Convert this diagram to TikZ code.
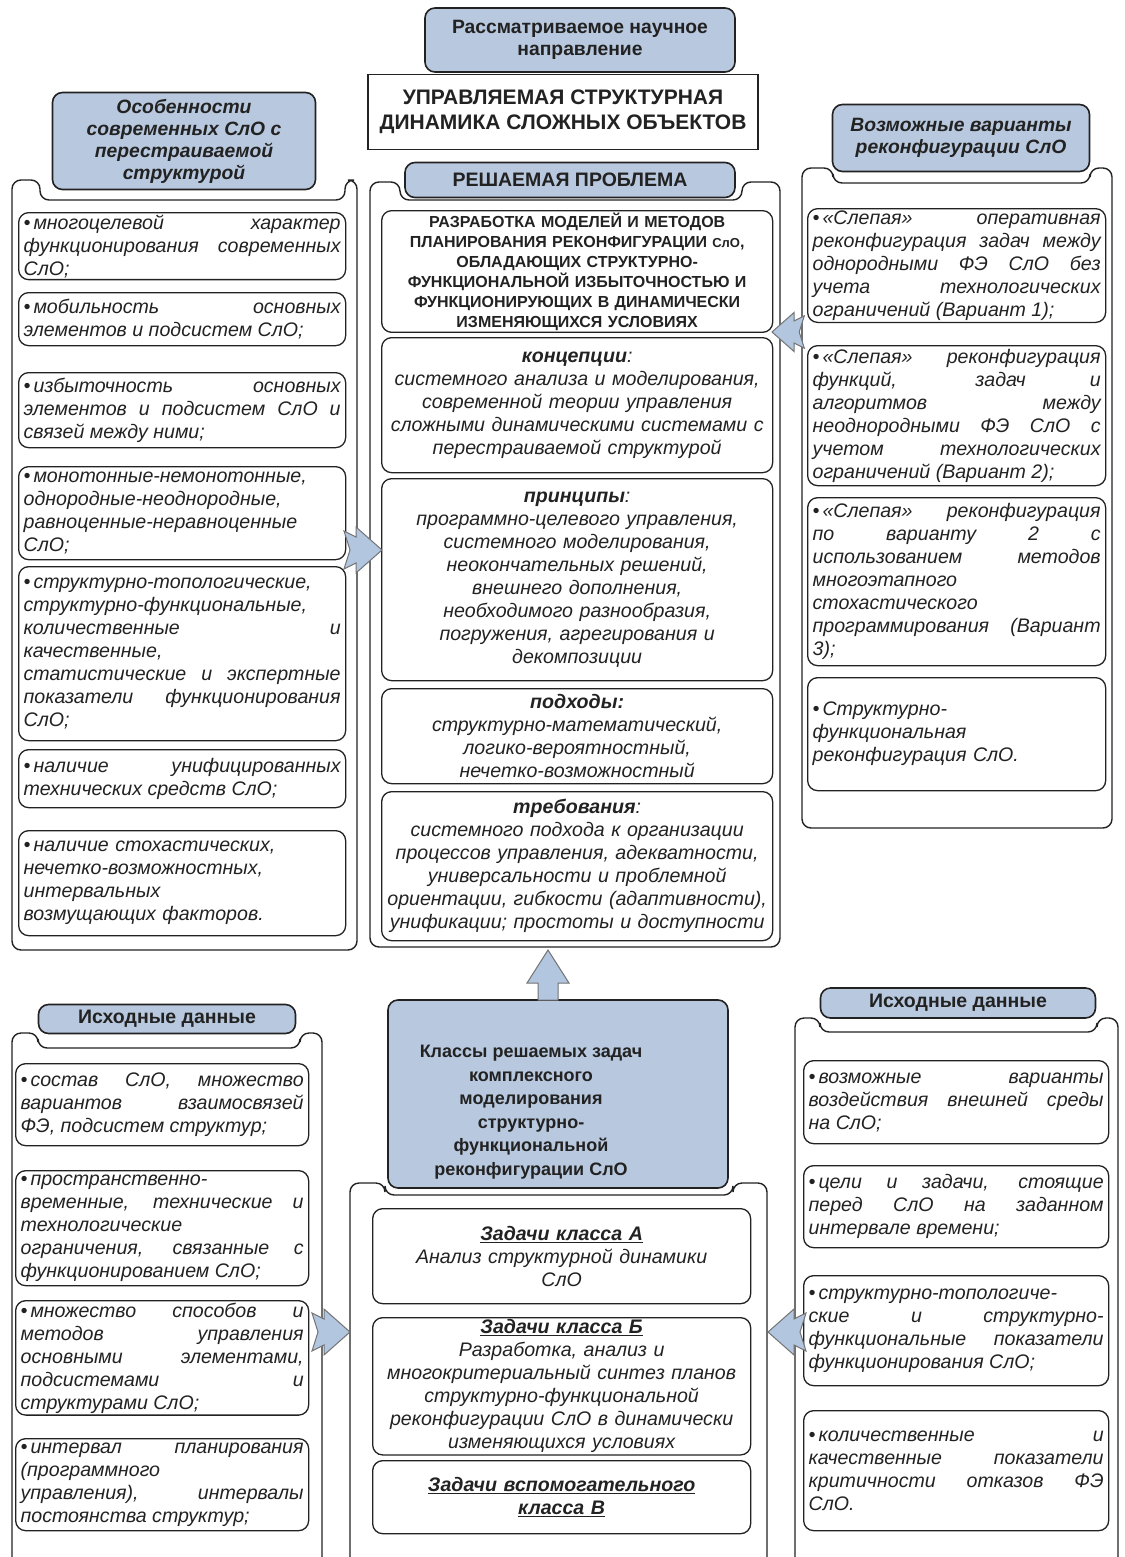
\documentclass[tikz,border=0pt]{standalone}
\usepackage{fontspec}
\setmainfont{Liberation Sans}
\definecolor{hdrblue}{HTML}{B8C8DE}
\definecolor{arrblue}{HTML}{B3C6E0}
\definecolor{ink}{HTML}{222222}
\usetikzlibrary{positioning, calc}
\newcommand{\blt}{\textbullet\kern3pt}
\hbadness=10000

\tikzset{
  panel/.style = {draw = ink, line width = 1.4pt, rounded corners = 9pt},
  hbox/.style = {rectangle, rounded corners = 10pt, draw = ink, line width = 1.6pt, fill = hdrblue, align = center, text = ink, inner sep = 2pt},
  ibox/.style = {rectangle, rounded corners = 10pt, draw = ink, line width = 1.3pt, fill = white, anchor = north west, inner xsep = 5pt, inner ysep = 2pt, text = ink, font = \itshape\fontsize{19.6}{23}\selectfont},
  jtext/.style = {align = justify},
  ctext/.style = {align = center},
  ltext/.style = {align = left},
  notched/.pic = {\filldraw[draw = black!55, line width = 1pt, fill = arrblue] (0,0) -- (-26,-23) -- (-26,-13) -- (-38,-19) -- (-32,0) -- (-38,19) -- (-26,13) -- (-26,23) -- cycle;},
  blockup/.pic = {\filldraw[draw = black!55, line width = 1pt, fill = arrblue] (0,0) -- (-33,-21) -- (-33,-10) -- (-50,-10) -- (-50,10) -- (-33,10) -- (-33,21) -- cycle;}
}

\begin{document}
\begin{tikzpicture}[x = 1pt, y = -1pt]
\useasboundingbox[fill = white] (0,0) rectangle (1124,1557);

% panels
\draw[panel] (12,950) -- (12,180) -- (40,180) -- (40,200) -- (345,200) -- (345,180) -- (357,180) -- (357,950) -- cycle;
\draw[panel] (370,947) -- (370,182) -- (400,182) -- (400,200) -- (742,200) -- (742,182) -- (780,182) -- (780,947) -- cycle;
\draw[panel] (802,828) -- (802,168) -- (833,168) -- (833,183) -- (1090,183) -- (1090,168) -- (1112,168) -- (1112,828) -- cycle;
\draw[panel] (12,1575) -- (12,1033) -- (38,1033) -- (38,1048) -- (300,1048) -- (300,1033) -- (322,1033) -- (322,1575);
\draw[panel] (350,1575) -- (350,1183) -- (385,1183) -- (385,1195) -- (733,1195) -- (733,1183) -- (767,1183) -- (767,1575);
\draw[panel] (795,1575) -- (795,1018) -- (820,1018) -- (820,1032) -- (1097,1032) -- (1097,1018) -- (1118,1018) -- (1118,1575);

% top
\node[hbox, minimum width = 310pt, minimum height = 64pt, font = \bfseries\fontsize{19.3}{22.5}\selectfont] (napr) at (580,40) {Рассматриваемое научное\\направление};
\node[rectangle, draw = ink, line width = 1.4pt, minimum width = 390pt, minimum height = 75pt, align = center, text = ink, font = \bfseries\fontsize{21}{25}\selectfont] (upr) at (563,112) {УПРАВЛЯЕМАЯ СТРУКТУРНАЯ\\ДИНАМИКА СЛОЖНЫХ ОБЪЕКТОВ};
\node[hbox, minimum width = 330pt, minimum height = 35pt, font = \bfseries\fontsize{19.5}{22}\selectfont] (probl) at (570,180) {РЕШАЕМАЯ ПРОБЛЕМА};
\node[hbox, minimum width = 263pt, minimum height = 97pt, font = \bfseries\itshape\fontsize{19.3}{22}\selectfont] (osob) at (184,141) {Особенности\\современных СлО с\\перестраиваемой\\структурой};
\node[hbox, minimum width = 257pt, minimum height = 67pt, font = \bfseries\itshape\fontsize{19.3}{22}\selectfont] (vozm) at (961,138) {Возможные варианты\\реконфигурации СлО};

% left column
\node[ibox, jtext, text width = 317pt, minimum height = 58pt] (osob1) at (18,212) {\blt многоцелевой характер\linebreak функционирования современных\linebreak СлО;};
\node[ibox, jtext, text width = 317pt, minimum height = 53pt] (osob2) at (18,292) {\blt мобильность основных\linebreak элементов и подсистем СлО;};
\node[ibox, jtext, text width = 317pt, minimum height = 75pt] (osob3) at (18,372) {\blt избыточность основных\linebreak элементов и подсистем СлО и\linebreak связей между ними;};
\node[ibox, jtext, text width = 317pt, minimum height = 93pt] (osob4) at (18,466) {\blt монотонные-немонотонные,\linebreak однородные-неоднородные,\linebreak равноценные-неравноценные\linebreak СлО;};
\node[ibox, jtext, text width = 317pt, minimum height = 174pt] (osob5) at (18,566) {\blt структурно-топологические,\linebreak структурно-функциональные,\linebreak количественные и\linebreak качественные,\linebreak статистические и экспертные\linebreak показатели функционирования\linebreak СлО;};
\node[ibox, jtext, text width = 317pt, minimum height = 58pt] (osob6) at (18,749) {\blt наличие унифицированных\linebreak технических средств СлО;};
\node[ibox, ltext, text width = 317pt, minimum height = 105pt] (osob7) at (18,830) {\blt наличие стохастических,\\нечетко-возможностных,\\интервальных\\возмущающих факторов.};

% centre column
\node[ibox, ctext, text width = 381pt, minimum height = 120pt, font = \bfseries\fontsize{16}{20}\selectfont] (razr) at (381,210) {РАЗРАБОТКА МОДЕЛЕЙ И МЕТОДОВ\\ПЛАНИРОВАНИЯ РЕКОНФИГУРАЦИИ {\fontsize{13}{20}\selectfont СлО},\\ОБЛАДАЮЩИХ СТРУКТУРНО-\\ФУНКЦИОНАЛЬНОЙ ИЗБЫТОЧНОСТЬЮ И\\ФУНКЦИОНИРУЮЩИХ В ДИНАМИЧЕСКИ\\ИЗМЕНЯЮЩИХСЯ УСЛОВИЯХ};
\node[ibox, ctext, text width = 381pt, minimum height = 135pt] (konc) at (381,337) {{\bfseries концепции}:\\системного анализа и моделирования,\\современной теории управления\\сложными динамическими системами с\\перестраиваемой структурой};
\node[ibox, ctext, text width = 381pt, minimum height = 202pt] (princ) at (381,478) {{\bfseries принципы}:\\программно-целевого управления,\\системного моделирования,\\неокончательных решений,\\внешнего дополнения,\\необходимого разнообразия,\\погружения, агрегирования и\\декомпозиции};
\node[ibox, ctext, text width = 381pt, minimum height = 95pt] (podh) at (381,688) {{\bfseries подходы:}\\структурно-математический,\\логико-вероятностный,\\нечетко-возможностный};
\node[ibox, ctext, text width = 381pt, minimum height = 149pt] (treb) at (381,791) {{\bfseries требования}:\\системного подхода к организации\\процессов управления, адекватности,\\универсальности и проблемной\\ориентации, гибкости (адаптивности),\\унификации; простоты и доступности};

% right column
\node[ibox, jtext, text width = 288pt, minimum height = 112pt] (var1) at (807,208) {\blt «Слепая» оперативная\linebreak реконфигурация задач между\linebreak однородными ФЭ СлО без\linebreak учета технологических\linebreak ограничений (Вариант 1);};
\node[ibox, jtext, text width = 288pt, minimum height = 140pt] (var2) at (807,345) {\blt «Слепая» реконфигурация\linebreak функций, задач и\linebreak алгоритмов между\linebreak неоднородными ФЭ СлО с\linebreak учетом технологических\linebreak ограничений (Вариант 2);};
\node[ibox, jtext, text width = 288pt, minimum height = 168pt] (var3) at (807,497) {\blt «Слепая» реконфигурация\linebreak по варианту 2 с\linebreak использованием методов\linebreak многоэтапного\linebreak стохастического\linebreak программирования (Вариант\linebreak 3);};
\node[ibox, ltext, text width = 288pt, minimum height = 113pt] (var4) at (807,677) {\blt Структурно-\\функциональная\\реконфигурация СлО.};

% bottom
\node[hbox, minimum width = 340pt, minimum height = 188pt] (klassy) at (558,1094) {};
\node[text = ink, align = center, font = \bfseries\fontsize{18}{23.5}\selectfont] (klassytxt) at (531,1112) {Классы решаемых задач\\комплексного\\моделирования\\структурно-\\функциональной\\реконфигурации СлО};
\node[hbox, minimum width = 257pt, minimum height = 29pt, font = \bfseries\fontsize{19.5}{21}\selectfont] (ishodl) at (167,1019) {Исходные данные};
\node[hbox, minimum width = 275pt, minimum height = 30pt, font = \bfseries\fontsize{19.5}{21}\selectfont] (ishodr) at (958,1003) {Исходные данные};

\node[ibox, jtext, text width = 283pt, minimum height = 82pt] (isl1) at (15,1063) {\blt состав СлО, множество\linebreak вариантов взаимосвязей\linebreak ФЭ, подсистем структур;};
\node[ibox, jtext, text width = 283pt, minimum height = 115pt] (isl2) at (15,1170) {\blt пространственно-\linebreak временные, технические и\linebreak технологические\linebreak ограничения, связанные с\linebreak функционированием СлО;};
\node[ibox, jtext, text width = 283pt, minimum height = 112pt] (isl3) at (15,1300) {\blt множество способов и\linebreak методов управления\linebreak основными элементами,\linebreak подсистемами и\linebreak структурами СлО;};
\node[ibox, jtext, text width = 283pt, minimum height = 92pt] (isl4) at (15,1438) {\blt интервал планирования\linebreak (программного\linebreak управления), интервалы\linebreak постоянства структур;};

\node[ibox, ctext, text width = 368pt, minimum height = 95pt] (zadA) at (372,1208) {\underline{\bfseries Задачи класса А}\\Анализ структурной динамики\\СлО};
\node[ibox, ctext, text width = 368pt, minimum height = 133pt] (zadB) at (372,1317) {\underline{\bfseries Задачи класса Б}\\Разработка, анализ и\\многокритериальный синтез планов\\структурно-функциональной\\реконфигурации  СлО в динамически\\изменяющихся условиях};
\node[ibox, ctext, text width = 368pt, minimum height = 73pt] (zadV) at (372,1460) {\underline{\bfseries Задачи вспомогательного}\\\underline{\bfseries класса В}};

\node[ibox, jtext, text width = 295pt, minimum height = 83pt] (isr1) at (803,1060) {\blt возможные варианты\linebreak воздействия внешней среды\linebreak на СлО;};
\node[ibox, jtext, text width = 295pt, minimum height = 82pt] (isr2) at (803,1165) {\blt цели и задачи, стоящие\linebreak перед СлО на заданном\linebreak интервале времени;};
\node[ibox, jtext, text width = 295pt, minimum height = 110pt] (isr3) at (803,1275) {\blt структурно-топологиче-\linebreak ские и структурно-\linebreak функциональные показатели\linebreak функционирования СлО;};
\node[ibox, jtext, text width = 295pt, minimum height = 120pt] (isr4) at (803,1410) {\blt количественные и\linebreak качественные показатели\linebreak критичности отказов ФЭ\linebreak СлО.};

% block arrows
\coordinate (tipl) at (382,550);
\coordinate (tipr) at (772,332);
\coordinate (tipu) at (548,950);
\coordinate (tipbl) at (350,1332);
\coordinate (tipbr) at (768,1332);
\pic at (tipl) {notched};
\pic[rotate = 180, scale = 0.85] at (tipr) {notched};
\pic[rotate = 90] at (tipu) {blockup};
\pic at (tipbl) {notched};
\pic[rotate = 180] at (tipbr) {notched};
\end{tikzpicture}
\end{document}
